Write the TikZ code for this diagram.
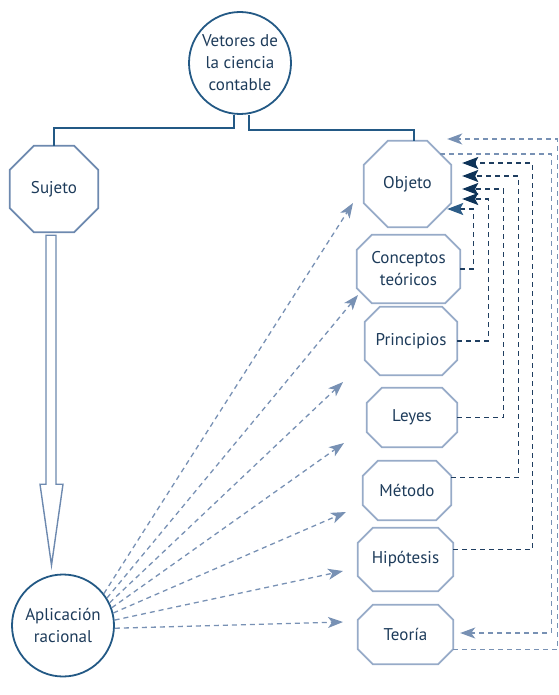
\documentclass[tikz,border=0pt]{standalone}
\usepackage{fontspec}
\setmainfont{PT Sans}
\usetikzlibrary{arrows.meta,calc}

\definecolor{inkblue}{HTML}{1D3B5A}
\definecolor{ringblue}{HTML}{235985}
\definecolor{octgray}{HTML}{97ABC8}
\definecolor{sujgray}{HTML}{6D89AF}
\definecolor{rayblue}{HTML}{7891B4}
\definecolor{navy}{HTML}{1F3E60}
\definecolor{navytip}{HTML}{0E3358}
\definecolor{midtip}{HTML}{2D5D88}

% octagon outline round a box node
\newcommand{\octring}[3][octgray]{%
  \draw[draw=#1, line width=1.8pt]
    ($(#2.north west)+(#3,0)$) -- ($(#2.north east)+(-#3,0)$)
    -- ($(#2.north east)+(0,#3)$) -- ($(#2.south east)+(0,-#3)$)
    -- ($(#2.south east)+(-#3,0)$) -- ($(#2.south west)+(#3,0)$)
    -- ($(#2.south west)+(0,-#3)$) -- ($(#2.north west)+(0,#3)$) -- cycle;}

\tikzset{
  every node/.style={font=\fontsize{17}{22}\selectfont, text=inkblue},
  ring/.style={circle, draw=ringblue, line width=1.8pt, align=center,
    minimum size=102pt, inner sep=0pt},
  octbox/.style={rectangle, align=center, inner sep=0pt},
  treeline/.style={draw=ringblue, line width=1.4pt},
  hollow/.style={draw=sujgray, line width=1.4pt, fill=white},
  raydash/.style={draw=rayblue, line width=1.3pt, dash pattern=on 5pt off 4pt,
    -{Stealth[length=15pt,width=11pt,inset=4pt,color=rayblue]}},
  darkret/.style={draw=navy, line width=1.3pt, dash pattern=on 5pt off 4pt,
    -{Stealth[length=16pt,width=12pt,inset=3pt,color=navytip]}},
  paleret/.style={draw=rayblue, line width=1.3pt, dash pattern=on 5pt off 4pt},
}

\begin{document}
\begin{tikzpicture}[x=1pt, y=-1pt]
    \useasboundingbox (0,0) rectangle (558,695);

    % circles
    \node[ring] (vet) at (240,63) {Vetores de\\la ciencia\\contable};
    \node[ring] (apl) at (63,625.5) {Aplicación\\racional};

    % octagons
    \node[octbox, minimum width=88pt, minimum height=86pt] (suj) at (54,189) {Sujeto};
    \node[octbox, minimum width=87pt, minimum height=86pt] (obj) at (407.5,184) {Objeto};
    \node[octbox, minimum width=103pt, minimum height=68pt] (con) at (408.5,269) {Conceptos\\teóricos};
    \node[octbox, minimum width=92pt, minimum height=68pt] (pri) at (411,341) {Principios};
    \node[octbox, minimum width=90pt, minimum height=59pt] (ley) at (412,417.5) {Leyes};
    \node[octbox, minimum width=88pt, minimum height=59pt] (met) at (407,490.5) {Método};
    \node[octbox, minimum width=95pt, minimum height=63pt] (hip) at (405.5,559.5) {Hipótesis};
    \node[octbox, minimum width=95pt, minimum height=59pt] (teo) at (405.5,634.5) {Teoría};

    \octring[sujgray]{suj}{24}
    \octring{obj}{24}
    \foreach \n in {con, pri, ley, met, hip, teo} {\octring{\n}{15}}

    % tree
    \draw[treeline] ([xshift=-6pt]vet.south) -- ++(0,13) -| (suj.north);
    \draw[treeline] ([xshift=9pt]vet.south) -- ++(0,15) -| ([xshift=6.5pt]obj.north);

    % hollow arrow
    \draw[hollow] (suj.south) ++(-8,3) -- ++(0,249) -- ++(-6,0) -- ++(11.5,81)
      -- ++(11.5,-81) -- ++(-7,0) -- ++(0,-249) -- cycle;

    % rays
    \foreach \ang/\tx/\ty [count=\i] in {38/353/203, 32/358/295, 26/343/382,
        20/344/443, 14/346/512, 6/343/571, -3/343/622} {
      \coordinate (tip\i) at (\tx,\ty);
      \draw[raydash] (apl.\ang) -- (tip\i);
    }

    % returns
    \coordinate (inA) at ($(obj.east)+(11,-21)$);
    \coordinate (inB) at ($(obj.east)+(11,-8)$);
    \coordinate (inC) at ($(obj.east)+(11,5)$);
    \coordinate (inD) at ($(obj.east)+(11,15)$);
    \coordinate (inE) at ($(obj.east)+(-4,25)$);
    \coordinate (inF) at ($(obj.east)+(-4,-45)$);
    \coordinate (inT) at ($(teo.east)+(7,-1.5)$);

    \draw[paleret, -{Stealth[length=15pt,width=11pt,inset=4pt,color=rayblue]}]
      ($(teo.east)+(0,15)$) -- ++(104,0) |- (inF);
    \draw[paleret, -{Stealth[length=15pt,width=11pt,inset=4pt,color=rayblue]}]
      ($(obj.east)+(-11,-30)$) -- ++(111,0) |- (inT);
    \draw[darkret] ($(hip.east)+(0,-10)$) -- ++(79,0) |- (inA);
    \draw[darkret] ($(met.east)+(0,-13)$) -- ++(67,0) |- (inB);
    \draw[darkret] (ley.east) -- ++(46,0) |- (inC);
    \draw[darkret] (pri.east) -- ++(31,0) |- (inD);
    \draw[darkret, -{Stealth[length=16pt,width=12pt,inset=3pt,color=midtip]}]
      (con.east) -- ++(13,0) |- (inE);
\end{tikzpicture}
\end{document}
